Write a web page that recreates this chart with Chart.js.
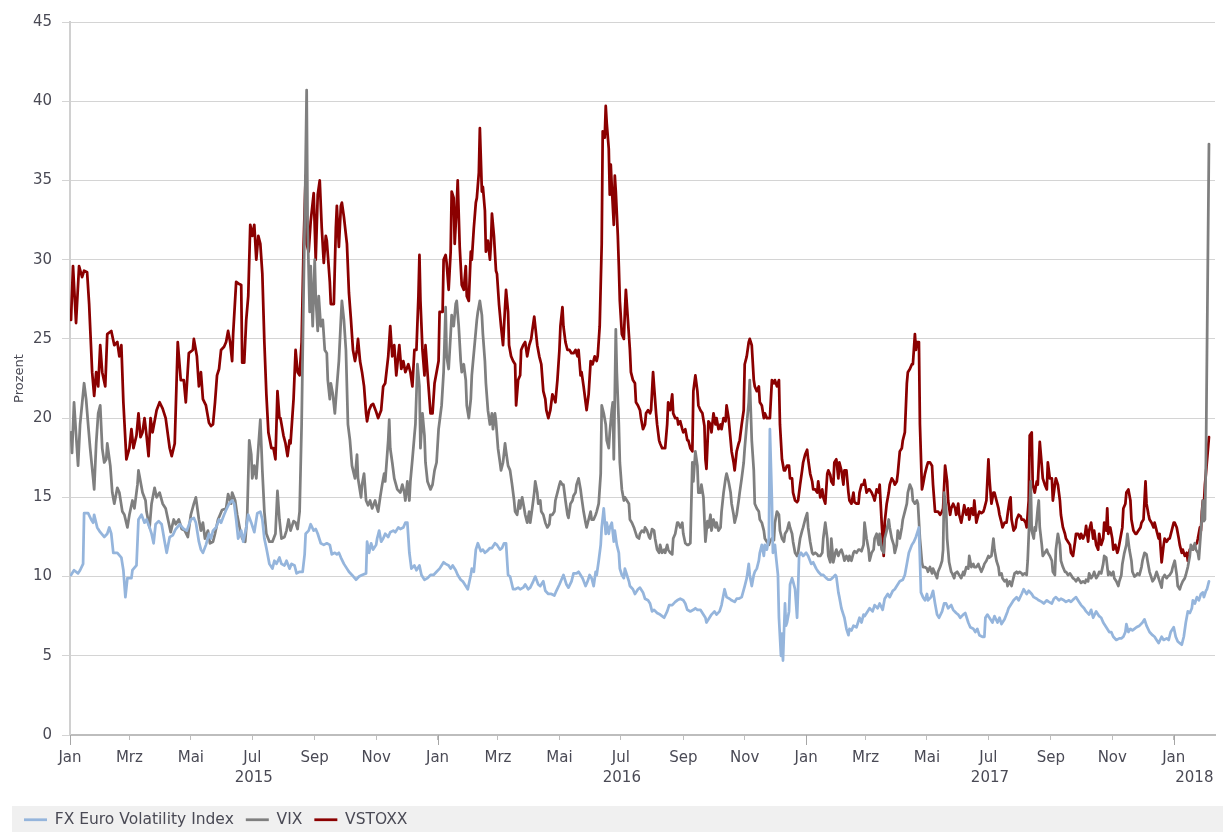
<!DOCTYPE html>
<html><head><meta charset="utf-8">
<script src="https://cdn.jsdelivr.net/npm/chart.js@4/dist/chart.umd.min.js"></script>
<style>html,body{margin:0;padding:0;background:#fff;}#wrap{width:1223px;height:832px;}</style>
</head><body><div id="wrap"><canvas id="c" width="1223" height="832"></canvas></div>
<script>
// x values: days since 2015-01-01
const monthTickDays = [0,59,120,181,243,304,365,425,486,547,609,670,731,790,851,912,974,1035,1096];
const monthTickLabels = ['Jan','Mrz','Mai','Jul','Sep','Nov','Jan','Mrz','Mai','Jul','Sep','Nov','Jan','Mrz','Mai','Jul','Sep','Nov','Jan'];
const yearLabels = ['2015','2016','2017','2018'];
const yearStartDays = [0,365,731,1096];
const seriesLabels = ['FX Euro Volatility Index','VIX','VSTOXX'];

const vstoxxSeries = [[1,26.2],[3,29.6],[6,26.0],[9,29.6],[12,28.9],[14,29.3],[17,29.2],[19,27.2],[22,22.9],[24,21.4],[26,22.9],[28,22.0],[30,24.6],[32,22.9],[35,22.0],[37,25.3],[41,25.5],[44,24.6],[47,24.8],[49,23.9],[51,24.6],[53,21.0],[56,17.4],[59,18.1],[61,19.3],[63,18.1],[66,18.9],[68,20.3],[70,18.8],[72,19.1],[74,20.0],[76,18.9],[78,17.6],[80,20.0],[82,19.1],[84,19.8],[86,20.5],[89,21.0],[92,20.6],[95,20.0],[99,18.1],[101,17.6],[104,18.4],[107,24.8],[110,22.4],[113,22.4],[115,21.0],[118,24.1],[122,24.3],[123,25.0],[126,23.9],[128,22.0],[130,22.9],[132,21.2],[135,20.8],[138,19.7],[140,19.5],[142,19.6],[144,21.0],[146,22.7],[148,23.1],[150,24.3],[153,24.5],[155,24.8],[157,25.5],[159,24.8],[161,23.6],[162,25.3],[165,28.6],[167,28.5],[170,28.4],[171,23.5],[173,23.5],[175,26.2],[177,27.7],[179,32.2],[181,31.5],[183,32.2],[185,30.0],[187,31.5],[189,31.0],[191,29.1],[193,24.8],[195,21.5],[197,19.1],[200,18.1],[202,18.1],[204,17.4],[206,21.7],[208,20.0],[209,20.0],[212,18.9],[214,18.4],[216,17.6],[218,18.6],[219,18.4],[222,21.2],[224,24.3],[226,22.9],[228,22.7],[230,24.8],[232,31.0],[234,35.3],[235,31.0],[237,30.5],[239,32.4],[242,34.2],[244,30.0],[246,34.1],[248,35.0],[250,32.0],[252,29.8],[254,31.5],[255,31.2],[258,28.6],[259,27.2],[262,27.2],[264,32.0],[265,33.4],[267,30.8],[269,33.4],[270,33.6],[272,32.7],[275,31.0],[277,27.9],[279,26.2],[281,24.3],[283,23.6],[285,24.3],[286,25.0],[288,23.6],[290,22.9],[292,22.0],[294,20.3],[295,19.8],[297,20.5],[299,20.8],[301,20.9],[304,20.4],[306,20.0],[309,20.5],[311,22.0],[313,22.2],[316,23.9],[318,25.8],[320,23.9],[322,24.6],[324,22.7],[327,24.6],[329,23.1],[331,23.6],[333,22.9],[336,23.4],[338,22.9],[340,22.0],[342,24.3],[344,24.3],[346,27.7],[347,30.3],[348,27.4],[350,24.3],[352,22.7],[353,24.6],[356,22.0],[358,20.3],[360,20.3],[362,22.2],[364,22.9],[366,23.6],[367,26.7],[370,26.7],[371,30.0],[373,30.3],[374,29.8],[376,28.1],[378,30.5],[379,34.3],[381,33.9],[382,31.0],[384,33.4],[385,35.0],[387,30.8],[389,28.4],[391,28.1],[393,29.6],[394,27.7],[396,27.4],[398,30.5],[399,30.0],[401,32.0],[403,33.6],[404,33.9],[406,35.5],[407,38.3],[409,34.3],[410,34.6],[412,33.1],[413,30.5],[415,31.2],[417,30.0],[418,31.0],[419,32.9],[421,31.5],[423,29.3],[424,29.1],[426,27.2],[428,25.8],[430,24.6],[432,27.0],[433,28.1],[435,26.7],[436,24.6],[438,23.9],[440,23.6],[442,23.4],[443,20.8],[445,22.4],[447,22.7],[448,24.3],[450,24.6],[452,24.8],[454,23.9],[456,24.6],[458,25.0],[459,25.5],[461,26.4],[462,25.8],[464,24.6],[466,23.9],[468,23.4],[470,21.7],[472,21.2],[473,20.5],[475,20.0],[477,20.5],[479,21.5],[481,21.2],[482,21.0],[484,22.4],[486,24.3],[487,25.8],[489,27.0],[490,25.8],[492,24.8],[494,24.3],[496,24.3],[498,24.1],[500,24.1],[502,24.3],[504,23.9],[505,24.3],[507,22.7],[508,22.9],[510,22.0],[512,21.0],[513,20.5],[515,21.5],[517,23.6],[519,23.4],[521,23.9],[523,23.6],[524,23.9],[526,25.8],[528,31.0],[529,38.1],[531,37.7],[532,39.7],[533,38.6],[535,37.0],[536,34.1],[537,36.0],[538,34.6],[540,32.2],[541,35.3],[542,34.3],[544,31.5],[545,29.6],[546,27.4],[548,25.3],[550,25.0],[551,26.7],[552,28.1],[554,26.2],[556,24.3],[557,22.9],[559,22.4],[561,22.2],[562,21.0],[564,20.8],[566,20.5],[567,20.0],[569,19.3],[571,19.6],[572,20.3],[574,20.5],[576,20.3],[577,20.5],[579,22.9],[580,22.0],[582,20.3],[583,19.6],[585,18.6],[586,18.4],[588,18.1],[591,18.1],[593,19.6],[594,21.0],[596,20.5],[598,21.5],[599,20.3],[601,20.0],[603,20.0],[604,19.6],[606,19.8],[608,19.3],[609,19.1],[611,19.3],[613,18.6],[614,18.6],[616,18.1],[618,17.9],[619,21.7],[621,22.7],[623,21.7],[624,20.8],[626,20.5],[628,20.3],[630,19.5],[631,17.4],[632,16.8],[634,19.8],[636,19.6],[637,19.1],[639,20.3],[641,19.6],[642,20.0],[644,19.3],[646,19.6],[647,19.3],[649,20.0],[651,19.8],[652,20.8],[654,20.0],[656,18.6],[657,17.9],[659,17.2],[660,16.7],[662,17.9],[664,18.4],[665,18.6],[667,19.6],[669,20.5],[670,23.4],[672,23.9],[674,24.8],[675,25.0],[677,24.6],[679,22.4],[680,22.0],[682,21.7],[684,22.0],[685,21.0],[687,20.8],[689,20.0],[690,20.3],[692,20.0],[695,20.0],[697,22.4],[699,22.2],[700,22.4],[702,22.0],[704,22.4],[705,19.6],[707,17.4],[709,16.7],[710,16.7],[712,17.0],[714,17.0],[715,16.2],[717,16.2],[718,15.3],[720,14.8],[722,14.7],[723,14.8],[725,15.8],[727,16.7],[728,17.2],[730,17.7],[732,18.0],[733,17.4],[735,16.5],[737,16.0],[738,15.5],[740,15.5],[742,15.3],[743,16.0],[745,15.0],[747,15.5],[748,15.0],[750,14.6],[752,16.5],[753,16.7],[755,16.4],[756,16.0],[758,15.8],[759,17.2],[761,17.4],[763,16.2],[764,17.2],[766,16.7],[768,15.8],[769,16.7],[771,16.7],[773,15.3],[774,14.8],[776,14.6],[778,15.3],[779,14.7],[781,14.6],[783,14.6],[784,15.3],[786,15.8],[788,15.8],[789,16.1],[791,15.3],[793,15.5],[794,15.5],[796,15.3],[798,15.0],[799,14.8],[801,15.5],[803,15.3],[804,15.8],[806,13.4],[808,11.3],[809,13.4],[811,14.6],[813,15.3],[814,15.8],[816,16.2],[818,16.0],[819,15.8],[821,16.0],[822,16.5],[824,17.9],[826,18.1],[827,18.6],[829,19.1],[831,22.2],[832,22.9],[834,23.1],[836,23.4],[837,23.4],[839,25.3],[840,24.3],[841,24.8],[843,24.8],[844,19.6],[846,15.5],[847,15.8],[849,16.5],[851,17.0],[852,17.2],[854,17.2],[856,17.0],[857,15.8],[859,14.1],[861,14.1],[862,14.1],[864,13.9],[866,14.1],[867,14.3],[869,17.0],[871,16.0],[872,14.8],[874,13.9],[875,14.3],[877,14.6],[879,14.3],[880,13.9],[882,14.6],[883,13.9],[885,13.4],[887,14.1],[888,14.5],[890,13.9],[892,14.3],[893,13.6],[895,14.3],[897,13.9],[898,14.8],[900,13.4],[902,13.9],[903,14.1],[905,14.0],[907,14.1],[908,14.3],[910,14.8],[912,17.4],[913,16.2],[915,14.6],[917,15.3],[918,15.3],[920,14.8],[922,14.3],[923,13.9],[925,13.4],[926,13.1],[928,13.4],[930,13.4],[931,13.9],[933,14.8],[934,15.0],[935,13.6],[937,12.9],[939,13.1],[940,13.6],[942,13.9],[944,13.8],[945,13.6],[947,13.6],[949,13.4],[950,13.1],[952,14.8],[953,18.9],[955,19.1],[956,15.8],[958,15.3],[960,16.0],[961,15.8],[963,18.5],[965,17.0],[966,16.2],[968,15.8],[970,15.5],[971,17.2],[973,16.2],[975,16.2],[976,14.8],[978,15.8],[979,16.2],[981,15.8],[983,14.8],[984,13.9],[986,13.1],[988,12.7],[989,12.4],[991,12.2],[993,12.0],[994,11.5],[996,11.3],[998,12.2],[999,12.7],[1001,12.7],[1003,12.4],[1004,12.7],[1006,12.4],[1008,12.7],[1009,13.2],[1011,12.2],[1012,12.9],[1014,13.4],[1016,12.4],[1017,12.9],[1019,12.0],[1021,11.7],[1022,12.7],[1024,12.0],[1026,12.4],[1027,13.4],[1029,12.9],[1030,14.3],[1031,12.7],[1033,13.1],[1035,12.4],[1036,11.7],[1038,12.0],[1040,11.5],[1041,11.7],[1043,12.4],[1045,13.1],[1046,14.3],[1048,14.6],[1049,15.3],[1051,15.5],[1053,14.8],[1054,13.6],[1056,12.9],[1058,12.7],[1059,12.7],[1061,12.9],[1063,13.1],[1064,13.4],[1066,13.6],[1068,16.0],[1069,14.6],[1071,13.9],[1072,13.6],[1074,13.4],[1076,13.1],[1077,13.4],[1079,12.9],[1081,12.4],[1082,12.7],[1084,10.9],[1086,12.0],[1087,12.4],[1089,12.2],[1091,12.4],[1092,12.4],[1094,12.9],[1096,13.4],[1097,13.4],[1099,13.1],[1101,12.4],[1102,12.0],[1104,11.5],[1105,11.7],[1107,11.3],[1109,11.5],[1110,11.0],[1112,11.7],[1114,11.8],[1115,11.7],[1117,12.0],[1119,12.1],[1120,12.4],[1122,13.1],[1123,12.9],[1124,14.1],[1125,14.8],[1126,14.6],[1127,15.8],[1128,16.5],[1131,18.8]];

const vixSeries = [[1,19.1],[2,17.8],[4,21.0],[8,17.0],[10,19.6],[14,22.2],[16,21.2],[18,19.6],[20,18.1],[23,16.2],[24,15.5],[26,18.4],[28,20.3],[30,20.8],[32,18.1],[34,17.2],[36,17.4],[37,18.4],[40,17.0],[42,15.3],[44,14.6],[47,15.6],[49,15.3],[52,14.1],[54,13.9],[57,13.1],[59,13.9],[62,14.8],[64,14.3],[67,15.8],[68,16.7],[70,16.0],[72,15.3],[75,14.8],[76,14.1],[79,13.1],[81,14.6],[84,15.6],[86,15.0],[89,15.3],[92,14.6],[95,14.3],[98,13.4],[100,12.8],[103,13.6],[105,13.3],[108,13.6],[111,13.0],[114,12.9],[117,12.5],[120,13.9],[123,14.6],[125,15.0],[128,13.6],[130,12.9],[132,13.4],[134,12.4],[137,12.9],[139,12.1],[142,12.2],[144,12.7],[147,13.6],[149,13.9],[151,14.2],[155,14.3],[157,15.2],[160,14.6],[161,15.3],[164,14.8],[166,13.9],[169,12.9],[171,12.4],[174,12.2],[176,13.9],[178,18.6],[180,17.7],[181,16.2],[183,17.0],[185,16.2],[187,18.1],[189,19.9],[191,16.7],[193,14.1],[195,12.7],[198,12.2],[201,12.2],[204,12.7],[206,15.4],[208,13.6],[210,12.4],[213,12.5],[215,12.9],[217,13.6],[219,12.9],[222,13.5],[224,13.4],[226,13.0],[228,14.1],[230,19.6],[232,28.1],[234,36.2],[235,40.7],[236,32.0],[238,26.7],[239,29.6],[241,25.8],[243,30.0],[244,27.7],[246,25.5],[247,27.7],[249,25.8],[251,26.2],[253,24.3],[255,24.1],[256,22.4],[258,21.2],[259,22.2],[261,21.5],[263,20.3],[265,22.0],[267,23.6],[269,26.2],[270,27.4],[272,26.2],[274,24.3],[276,19.6],[278,18.6],[280,17.0],[283,16.2],[285,17.7],[286,16.2],[289,15.0],[290,15.8],[292,16.5],[294,14.8],[296,14.5],[298,14.8],[300,14.3],[303,14.8],[305,14.3],[306,14.1],[308,15.0],[310,15.8],[312,16.5],[313,16.0],[316,18.6],[317,19.9],[318,18.1],[320,17.2],[322,16.2],[325,15.5],[328,15.3],[330,15.8],[332,15.3],[333,14.8],[335,16.0],[337,14.8],[338,16.0],[340,17.4],[342,18.9],[343,19.6],[345,23.4],[347,22.0],[348,18.1],[350,20.3],[352,18.9],[353,17.2],[355,16.0],[358,15.5],[360,15.8],[362,16.7],[364,17.2],[366,19.3],[369,20.8],[371,22.9],[373,27.0],[374,23.9],[376,23.1],[378,25.3],[379,26.5],[381,25.8],[383,27.2],[384,27.4],[386,25.8],[388,23.6],[389,22.9],[391,23.4],[393,22.4],[394,20.8],[396,20.0],[398,21.2],[399,22.7],[400,23.4],[402,24.8],[404,26.2],[405,26.7],[407,27.4],[409,26.5],[410,25.3],[412,23.6],[413,22.2],[415,20.5],[417,19.6],[419,20.3],[420,19.3],[422,20.3],[423,19.8],[425,18.1],[427,17.2],[428,16.7],[430,17.2],[432,18.4],[433,17.9],[435,17.0],[437,16.7],[439,15.8],[441,14.8],[442,14.1],[444,13.9],[446,14.8],[447,14.3],[449,15.0],[451,14.3],[452,13.9],[454,13.4],[456,14.1],[457,13.4],[459,14.3],[461,15.3],[462,16.0],[464,15.3],[465,14.6],[467,14.8],[468,14.1],[470,13.9],[472,13.4],[474,13.1],[476,13.3],[477,13.9],[479,13.9],[481,14.1],[482,14.8],[484,15.3],[486,15.8],[487,16.0],[489,15.8],[490,15.8],[492,14.8],[494,13.9],[495,13.7],[497,14.6],[499,14.8],[500,15.1],[502,15.3],[503,15.8],[505,16.2],[507,15.5],[508,15.0],[510,14.1],[512,13.4],[513,13.1],[515,13.6],[517,14.1],[518,13.6],[520,13.6],[522,13.9],[523,14.1],[525,14.6],[527,16.5],[528,20.8],[530,20.3],[532,19.6],[533,18.6],[535,18.1],[536,19.1],[538,20.5],[539,21.0],[540,17.4],[542,25.6],[543,22.9],[545,19.6],[546,17.2],[548,15.5],[550,14.8],[551,15.0],[553,14.8],[555,14.6],[556,13.6],[558,13.4],[560,13.1],[561,12.9],[563,12.5],[565,12.4],[566,12.7],[568,12.9],[570,12.8],[571,13.1],[573,12.9],[575,12.5],[576,12.4],[578,13.0],[580,12.9],[581,12.4],[583,11.7],[585,11.5],[586,12.0],[588,11.5],[590,11.7],[591,11.5],[593,12.0],[594,11.7],[596,11.5],[598,11.4],[599,12.4],[601,12.7],[603,13.4],[604,13.4],[606,13.1],[608,13.4],[609,12.7],[611,12.1],[613,12.0],[614,12.0],[616,12.1],[618,17.2],[619,16.0],[621,17.9],[623,17.0],[624,15.3],[626,15.3],[627,15.8],[629,15.0],[631,12.2],[633,13.5],[634,13.1],[636,13.9],[637,12.9],[639,13.6],[641,13.1],[642,13.4],[644,12.9],[646,13.1],[647,14.1],[649,15.3],[651,16.2],[652,16.5],[654,16.0],[656,15.3],[657,14.6],[659,13.9],[660,13.4],[662,13.9],[664,14.8],[665,15.3],[667,16.2],[669,17.2],[670,18.1],[672,19.6],[674,21.0],[675,22.4],[676,20.5],[677,18.6],[679,16.7],[680,14.6],[682,14.3],[684,14.1],[685,13.6],[687,13.4],[689,12.9],[690,12.4],[692,12.2],[694,12.0],[695,12.2],[697,12.4],[699,12.3],[700,13.4],[702,14.1],[704,13.9],[705,12.9],[707,12.4],[709,12.2],[710,12.7],[712,12.9],[714,13.4],[715,13.1],[717,12.7],[718,12.2],[720,11.5],[722,11.3],[723,11.5],[725,12.4],[727,12.9],[728,13.1],[730,13.6],[732,14.0],[733,13.1],[735,12.2],[737,11.5],[738,11.4],[740,11.5],[742,11.4],[743,11.3],[745,11.3],[747,11.5],[748,12.4],[750,13.4],[752,12.4],[753,11.3],[755,10.9],[756,12.4],[758,10.9],[760,11.5],[761,11.7],[763,11.3],[764,11.5],[766,11.7],[768,11.3],[769,11.0],[771,11.3],[773,11.0],[774,11.3],[776,11.0],[778,11.5],[779,11.6],[781,11.5],[783,11.7],[784,11.7],[786,11.6],[788,12.0],[789,13.4],[791,12.4],[793,11.7],[794,11.0],[796,11.5],[798,11.7],[799,12.4],[801,12.7],[803,12.0],[804,12.7],[806,11.7],[808,11.5],[809,12.4],[811,12.9],[813,13.6],[814,13.1],[816,12.4],[818,12.0],[819,11.5],[821,12.0],[822,12.9],[824,12.4],[826,13.1],[827,13.6],[829,14.1],[831,14.6],[832,15.3],[834,15.8],[836,15.5],[837,14.8],[839,14.6],[841,14.8],[842,14.6],[844,12.4],[846,10.9],[847,10.6],[849,10.6],[851,10.5],[852,10.3],[854,10.6],[856,10.2],[857,10.5],[859,10.2],[861,9.9],[862,10.3],[864,10.6],[866,11.0],[867,11.7],[868,15.3],[870,14.3],[871,12.4],[873,10.9],[875,10.3],[876,10.2],[878,9.9],[879,10.2],[881,10.3],[883,10.1],[885,9.9],[887,10.3],[888,10.1],[890,10.6],[892,10.5],[893,11.3],[895,10.6],[897,10.8],[898,10.6],[900,10.6],[902,10.8],[903,10.6],[905,10.3],[907,10.6],[908,10.8],[910,11.0],[912,11.3],[913,11.2],[915,11.3],[917,12.4],[918,11.7],[920,11.0],[922,10.6],[923,10.1],[925,10.2],[926,9.9],[928,9.7],[930,9.8],[931,9.4],[933,9.7],[935,9.4],[936,9.7],[938,10.2],[940,10.3],[941,10.2],[943,10.3],[945,10.2],[946,10.1],[948,10.2],[950,10.1],[951,11.0],[953,14.1],[954,16.0],[955,12.9],[957,12.4],[958,13.1],[959,12.9],[961,14.3],[962,14.8],[963,13.1],[965,12.0],[966,11.3],[968,11.5],[970,11.7],[971,11.5],[973,11.3],[975,11.0],[976,10.3],[978,10.1],[979,11.7],[981,12.7],[983,12.0],[984,11.0],[986,10.6],[988,10.3],[989,10.3],[991,10.1],[993,10.2],[994,10.1],[996,9.9],[998,9.8],[999,9.7],[1001,9.9],[1003,9.7],[1004,9.6],[1006,9.7],[1008,9.6],[1009,9.8],[1011,9.7],[1012,10.2],[1014,9.9],[1016,10.1],[1017,10.3],[1019,9.9],[1021,10.1],[1022,10.3],[1024,10.2],[1026,10.8],[1027,11.3],[1029,11.2],[1031,10.1],[1032,10.3],[1034,10.1],[1036,10.3],[1037,9.9],[1039,9.7],[1041,9.4],[1042,9.7],[1044,10.1],[1045,10.8],[1047,11.5],[1049,12.0],[1050,12.7],[1052,11.7],[1054,11.0],[1055,10.3],[1057,10.0],[1059,10.1],[1060,10.2],[1062,10.1],[1064,10.6],[1065,11.0],[1067,11.5],[1069,11.4],[1070,11.0],[1072,10.3],[1074,9.9],[1075,9.7],[1077,9.9],[1079,10.3],[1080,10.1],[1082,9.7],[1084,9.3],[1085,9.9],[1087,10.1],[1089,9.9],[1090,10.0],[1092,10.1],[1094,10.3],[1095,10.6],[1097,11.0],[1099,10.1],[1100,9.4],[1102,9.2],[1103,9.4],[1105,9.7],[1107,9.9],[1108,10.1],[1110,10.6],[1112,11.3],[1113,12.0],[1115,11.7],[1117,12.1],[1118,11.7],[1120,11.5],[1121,11.1],[1124,13.8],[1125,14.8],[1126,13.5],[1127,13.6],[1128,17.3],[1131,37.3]];

const fxSeries = [[1,10.1],[4,10.4],[8,10.2],[10,10.4],[13,10.8],[14,14.0],[18,14.0],[21,13.6],[23,13.4],[24,13.9],[27,13.1],[30,12.8],[34,12.5],[37,12.7],[39,13.1],[41,12.7],[43,11.5],[47,11.5],[51,11.2],[53,10.4],[55,8.7],[57,9.9],[61,9.9],[62,10.4],[66,10.7],[68,13.6],[71,13.9],[74,13.4],[76,13.6],[79,13.1],[81,12.7],[83,12.1],[85,13.3],[88,13.5],[91,13.3],[94,12.2],[96,11.5],[99,12.5],[102,12.6],[105,13.0],[109,13.3],[113,13.0],[116,12.9],[120,13.6],[123,13.7],[125,13.4],[128,12.2],[130,11.7],[132,11.5],[135,12.0],[138,12.7],[140,12.4],[142,12.9],[145,13.1],[148,13.6],[150,13.4],[153,13.9],[155,14.2],[158,14.6],[161,14.8],[163,14.6],[165,13.6],[167,12.4],[170,12.9],[172,12.2],[175,13.1],[177,13.9],[180,13.4],[183,12.8],[186,14.0],[189,14.1],[191,13.6],[193,12.4],[195,11.8],[198,10.8],[201,10.5],[203,11.0],[205,10.8],[208,11.2],[210,10.8],[213,10.7],[215,11.0],[218,10.5],[220,10.8],[223,10.7],[225,10.2],[228,10.3],[231,10.3],[233,11.4],[234,12.7],[237,12.9],[239,13.3],[242,12.9],[244,13.0],[246,12.7],[249,12.1],[252,12.0],[255,12.1],[258,12.0],[260,11.4],[263,11.5],[265,11.4],[267,11.5],[269,11.2],[272,10.8],[275,10.5],[277,10.3],[280,10.1],[284,9.8],[287,10.0],[290,10.1],[294,10.2],[295,12.2],[297,11.5],[299,12.1],[301,11.7],[304,12.0],[305,12.4],[307,12.9],[309,12.2],[311,12.4],[313,12.7],[316,12.5],[318,12.8],[321,12.9],[323,12.8],[326,13.1],[328,13.0],[331,13.1],[333,13.4],[335,13.4],[337,11.5],[339,10.5],[342,10.7],[344,10.4],[347,10.7],[349,10.1],[352,9.8],[355,9.9],[358,10.1],[361,10.1],[364,10.3],[367,10.5],[371,10.9],[373,10.8],[376,10.7],[378,10.5],[380,10.7],[383,10.4],[385,10.1],[388,9.8],[390,9.7],[393,9.4],[395,9.2],[398,10.1],[399,10.5],[401,10.3],[403,11.7],[405,12.1],[408,11.6],[410,11.7],[412,11.5],[414,11.6],[417,11.8],[419,11.8],[422,12.1],[424,12.0],[427,11.7],[429,11.8],[431,12.1],[433,12.1],[435,10.1],[437,10.0],[440,9.2],[442,9.2],[445,9.3],[447,9.2],[450,9.3],[452,9.5],[455,9.2],[457,9.3],[460,9.7],[462,10.0],[465,9.5],[467,9.4],[470,9.7],[472,9.1],[475,8.9],[478,8.9],[481,8.8],[483,9.1],[486,9.5],[488,9.8],[490,10.1],[493,9.5],[495,9.3],[498,9.7],[500,10.2],[503,10.2],[505,10.3],[507,10.1],[509,9.9],[512,9.4],[514,9.7],[516,10.1],[518,9.9],[520,9.4],[522,10.3],[523,10.1],[525,11.0],[527,12.0],[528,13.1],[530,14.3],[532,12.7],[533,13.4],[535,12.7],[536,13.1],[538,13.4],[540,12.2],[541,12.9],[543,12.0],[545,11.5],[546,10.5],[548,10.1],[550,9.9],[551,10.5],[553,10.1],[555,9.7],[556,9.4],[559,9.2],[561,8.9],[564,9.2],[566,9.3],[569,9.0],[571,8.6],[574,8.5],[576,8.3],[578,7.8],[580,7.9],[583,7.7],[586,7.6],[588,7.5],[590,7.4],[593,7.8],[595,8.2],[598,8.2],[601,8.4],[603,8.5],[606,8.6],[609,8.5],[611,8.3],[613,7.9],[616,7.8],[619,7.9],[621,8.0],[623,7.9],[626,7.9],[628,7.7],[631,7.4],[632,7.1],[635,7.4],[637,7.6],[640,7.8],[642,7.6],[645,7.8],[647,8.2],[650,9.2],[652,8.7],[655,8.6],[657,8.5],[660,8.4],[662,8.6],[664,8.6],[667,8.7],[670,9.4],[672,9.9],[674,10.8],[675,10.1],[677,9.4],[679,10.1],[680,10.3],[682,10.5],[684,11.0],[685,11.5],[687,12.0],[689,11.3],[690,12.0],[692,11.7],[694,12.4],[695,19.3],[697,14.8],[698,11.5],[700,12.0],[701,11.3],[703,10.1],[704,7.4],[706,5.0],[707,6.4],[708,4.7],[710,8.3],[711,6.9],[712,7.1],[714,7.8],[715,9.5],[717,9.9],[718,9.7],[720,9.2],[722,7.4],[723,9.2],[724,11.3],[726,11.5],[728,11.3],[731,11.5],[733,11.3],[736,10.8],[738,10.9],[741,10.5],[743,10.3],[746,10.1],[748,10.1],[751,9.9],[753,9.8],[755,9.8],[757,9.9],[760,10.1],[761,10.0],[763,9.0],[764,8.7],[766,8.0],[768,7.6],[769,7.4],[771,6.7],[773,6.3],[774,6.7],[776,6.6],[778,6.9],[781,6.8],[784,7.4],[786,7.1],[788,7.6],[789,7.5],[792,7.8],[794,8.0],[797,7.8],[799,8.2],[802,8.0],[804,8.3],[807,7.9],[809,8.6],[812,8.9],[814,8.7],[817,9.1],[819,9.2],[821,9.4],[824,9.7],[827,9.8],[829,10.1],[831,10.8],[833,11.5],[836,12.0],[838,12.2],[840,12.5],[842,12.9],[843,13.1],[845,9.0],[847,8.7],[849,8.5],[851,8.9],[852,8.5],[855,8.7],[857,9.1],[859,8.3],[861,7.6],[863,7.4],[866,7.8],[868,8.3],[870,8.3],[872,8.0],[875,8.2],[877,7.9],[880,7.7],[882,7.6],[884,7.4],[887,7.6],[889,7.7],[892,7.1],[894,6.8],[897,6.7],[899,6.5],[901,6.7],[903,6.3],[906,6.2],[908,6.2],[909,7.4],[911,7.6],[913,7.4],[916,7.1],[918,7.5],[921,7.1],[923,7.4],[925,7.0],[928,7.3],[931,7.8],[932,8.0],[935,8.3],[937,8.5],[940,8.7],[942,8.5],[945,8.9],[947,9.2],[950,8.9],[952,9.1],[955,8.9],[957,8.7],[960,8.6],[962,8.5],[965,8.4],[967,8.3],[970,8.5],[972,8.4],[975,8.3],[977,8.6],[979,8.7],[982,8.5],[984,8.6],[987,8.5],[989,8.4],[992,8.5],[994,8.4],[997,8.6],[999,8.7],[1002,8.4],[1004,8.2],[1007,8.0],[1009,7.8],[1012,7.6],[1014,7.9],[1016,7.4],[1019,7.8],[1022,7.5],[1024,7.4],[1026,7.1],[1029,6.8],[1032,6.5],[1034,6.5],[1036,6.2],[1039,6.0],[1042,6.1],[1044,6.1],[1046,6.2],[1048,6.5],[1049,7.0],[1051,6.5],[1053,6.7],[1055,6.6],[1057,6.7],[1059,6.8],[1062,6.9],[1065,7.1],[1067,7.3],[1069,6.9],[1072,6.5],[1075,6.3],[1077,6.2],[1079,6.0],[1081,5.8],[1084,6.2],[1086,6.0],[1089,6.1],[1091,6.0],[1093,6.5],[1096,6.8],[1098,6.2],[1100,5.9],[1102,5.8],[1104,5.7],[1106,6.2],[1108,7.1],[1110,7.8],[1112,7.7],[1114,8.0],[1115,8.5],[1117,8.3],[1119,8.7],[1121,8.5],[1123,8.9],[1125,9.0],[1126,8.7],[1128,9.1],[1129,9.2],[1131,9.7]];

const FONT = "'DejaVu Sans', Verdana, sans-serif";
const TEXT = '#4a4a55';
const X_MIN = 0, X_MAX = 1137;
const LEGEND_H = 32, LEGEND_BAND_OFFSET = 6;
const toPts = s => s.map(p => ({x: p[0], y: p[1]}));

const bgPlugin = {
  id: 'bg',
  afterInit(chart) {
    const L = chart.legend;
    if (L) {
      const fit = L.fit.bind(L);
      L.fit = function () { fit(); this.height = LEGEND_H; };
    }
  },
  beforeDraw(chart) {
    const c = chart.ctx, L = chart.legend;
    c.save();
    c.fillStyle = '#ffffff';
    c.fillRect(0, 0, chart.width, chart.height);
    c.fillStyle = '#f0f0f0';
    c.fillRect(L.left, L.top + LEGEND_BAND_OFFSET, chart.width - L.left, chart.height - L.top - LEGEND_BAND_OFFSET);
    c.restore();
  },
  afterDraw(chart) {
    const c = chart.ctx, xs = chart.scales.x, b = chart.chartArea.bottom;
    c.save();
    c.strokeStyle = '#a6a6a6'; c.lineWidth = 1;
    yearStartDays.forEach(d => {
      const px = Math.round(xs.getPixelForValue(d)) + 0.5;
      c.beginPath(); c.moveTo(px, b); c.lineTo(px, b + 10); c.stroke();
    });
    c.restore();
  }
};

new Chart(document.getElementById('c'), {
  type: 'line',
  data: {
    datasets: [
      {label: seriesLabels[0], data: toPts(fxSeries), borderColor: '#95b5dc', backgroundColor: '#95b5dc', borderWidth: 2.75},
      {label: seriesLabels[1], data: toPts(vixSeries), borderColor: '#7f7f7f', backgroundColor: '#7f7f7f', borderWidth: 2.75},
      {label: seriesLabels[2], data: toPts(vstoxxSeries), borderColor: '#8b0000', backgroundColor: '#8b0000', borderWidth: 2.75}
    ]
  },
  options: {
    responsive: false,
    animation: false,
    elements: {point: {radius: 0}, line: {tension: 0, borderJoinStyle: 'round', borderCapStyle: 'round'}},
    layout: {padding: {left: 12, right: 8, top: 22, bottom: 0}},
    plugins: {
      tooltip: {enabled: false},
      legend: {
        position: 'bottom', align: 'start',
        labels: {usePointStyle: true, pointStyle: 'line', pointStyleWidth: 23, boxWidth: 23, padding: 12,
          color: TEXT, font: {family: FONT, size: 15.5}}
      }
    },
    scales: {
      x: {
        type: 'linear', min: X_MIN, max: X_MAX,
        afterBuildTicks: s => { s.ticks = monthTickDays.map(v => ({value: v})); },
        afterFit: s => { s.height = 30; },
        ticks: {autoSkip: false, maxRotation: 0, color: TEXT, font: {family: FONT, size: 15}, padding: 9,
          callback: (v, i) => monthTickLabels[i]},
        grid: {drawOnChartArea: false, color: '#bdbdbd', tickLength: 5},
        border: {color: '#bdbdbd', width: 2}
      },
      x2: {
        type: 'linear', position: 'bottom', min: X_MIN, max: X_MAX,
        afterBuildTicks: s => { s.ticks = yearStartDays.map((d, i) => ({value: (d + Math.min(i + 1 < yearStartDays.length ? yearStartDays[i + 1] : X_MAX, X_MAX)) / 2})); },
        afterFit: s => { s.height = 35; },
        ticks: {autoSkip: false, maxRotation: 0, color: TEXT, font: {family: FONT, size: 15}, padding: 4,
          callback: (v, i) => yearLabels[i]},
        grid: {display: false, drawTicks: false, tickLength: 0},
        border: {display: false}
      },
      y: {
        min: 0, max: 45,
        afterFit: s => { s.width = 58; },
        ticks: {stepSize: 5, color: TEXT, font: {family: FONT, size: 15}, padding: 10},
        grid: {color: '#d4d4d4', tickLength: 8},
        border: {color: '#d0d0d0', width: 2},
        title: {display: true, text: 'Prozent', color: TEXT, font: {family: FONT, size: 13}, padding: {top: 0, bottom: 0}}
      }
    }
  },
  plugins: [bgPlugin]
});
</script>
</body></html>
